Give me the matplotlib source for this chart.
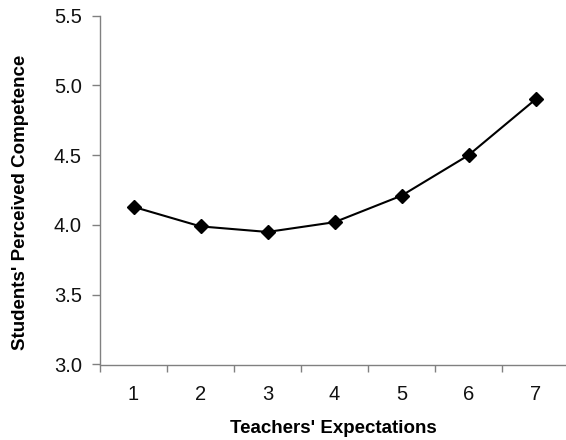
import matplotlib
matplotlib.use("Agg")
import matplotlib.pyplot as plt

categories = [1, 2, 3, 4, 5, 6, 7]
competence = [4.13, 3.99, 3.95, 4.02, 4.21, 4.50, 4.90]
y_ticks = [3.0, 3.5, 4.0, 4.5, 5.0, 5.5]

plt.rcParams['font.family'] = ['Liberation Sans', 'DejaVu Sans']

fig = plt.figure(figsize=(5.66, 4.4), dpi=100)
ax = fig.add_axes([100/566, 1-364.5/440, 469/566, (364.5-15.7)/440])

ax.plot(categories, competence, color='black', lw=1.5, marker='D', ms=7.5,
        markerfacecolor='black', markeredgecolor='black', clip_on=False)

ax.set_xlim(0.5, 7.5)
ax.set_ylim(3.0, 5.5)
ax.set_yticks(y_ticks)
ax.set_yticklabels([f"{v:.1f}" for v in y_ticks])
ax.set_xticks(categories)
ax.set_xticklabels([str(c) for c in categories])
ax.set_xticks([c + 0.5 for c in [0] + categories[:-1]], minor=True)

for s in ['top', 'right']:
    ax.spines[s].set_visible(False)
for s in ['left', 'bottom']:
    ax.spines[s].set_color('#808080')
    ax.spines[s].set_linewidth(1.0)

ax.tick_params(axis='y', direction='out', length=6, width=1, color='#808080',
               labelsize=14.5, pad=7, labelcolor='#111111')
ax.tick_params(axis='x', which='major', length=0, labelsize=14.5, pad=15,
               labelcolor='#111111')
ax.tick_params(axis='x', which='minor', direction='out', length=5, width=1,
               color='#808080')

ax.set_xlabel("Teachers' Expectations", fontsize=13.5, fontweight='bold')
ax.set_ylabel("Students' Perceived Competence", fontsize=13.5, fontweight='bold')
ax.xaxis.label.set_va('center')
ax.xaxis.set_label_coords(0.497, (364.5-428)/348.8)
ax.yaxis.label.set_va('center')
ax.yaxis.set_label_coords((20.5-100)/469, (364.5-202)/348.8)

fig.savefig("out.png", dpi=100)
